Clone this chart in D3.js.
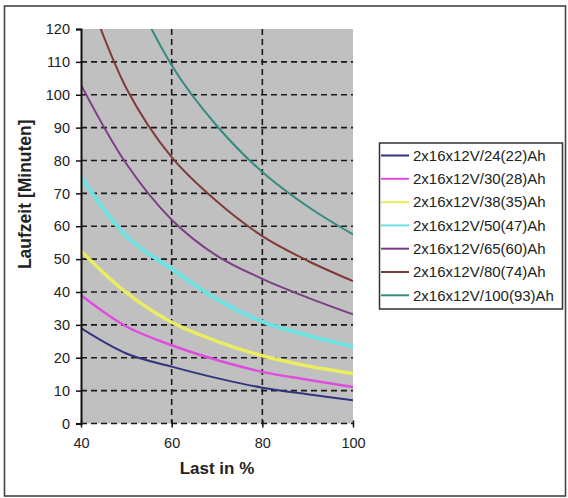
<!DOCTYPE html>
<html lang="de">
<head>
<meta charset="UTF-8">
<title>Laufzeit</title>
<script src="https://d3js.org/d3.v7.min.js"></script>
<style>
    body { margin: 0; background: #fff; }
    svg text { font-family: Arial, "Liberation Sans", sans-serif; fill: #222; }
</style>
</head>
<body>
<svg id="chart" width="568" height="498"></svg>
<script>
    // Last in % (x values)
    const loads = [40, 50, 60, 70, 80, 90, 100];

    // Laufzeit in Minuten per battery set
    const s24 = [29, 21.3, 17.3, 13.8, 10.9, 8.9, 7.1];
    const s30 = [39, 29.5, 23.8, 19.3, 15.7, 13.3, 11.1];
    const s38 = [52.5, 39.8, 30.8, 25, 20.6, 17.5, 15.2];
    const s50 = [75, 57, 47, 37.8, 31, 26.8, 23.4];
    const s65 = [103, 79, 62, 51, 44, 38.3, 33.2];
    const s80 = [136, 102, 81, 67.5, 57, 49.5, 43.3];
    const s100 = [181, 137, 109, 90.5, 76.5, 66, 57.5];

    const seriesNames = ["2x16x12V/24(22)Ah", "2x16x12V/30(28)Ah", "2x16x12V/38(35)Ah",
        "2x16x12V/50(47)Ah", "2x16x12V/65(60)Ah", "2x16x12V/80(74)Ah", "2x16x12V/100(93)Ah"];
    const seriesValues = [s24, s30, s38, s50, s65, s80, s100];
    const colors = ["#33337e", "#e04ce0", "#ecec60", "#6ee2e2", "#7c3f86", "#803a3a", "#338c80"];
    const widths = [2, 2.5, 3.5, 4, 2, 2, 2];

    const xTicks = [40, 60, 80, 100];
    const yTicks = d3.range(0, 121, 10);

    const svg = d3.select("#chart");
    const plot = {left: 81, right: 353, top: 29, bottom: 423.5};

    // outer frame
    svg.append("rect")
        .attr("x", 4.5).attr("y", 6).attr("width", 561).attr("height", 490)
        .attr("fill", "#fff").attr("stroke", "#444").attr("stroke-width", 1.6);

    const x = d3.scaleLinear().domain([40, 100]).range([plot.left, plot.right]);
    const y = d3.scaleLinear().domain([0, 120]).range([plot.bottom, plot.top]);

    svg.append("rect")
        .attr("x", plot.left).attr("y", plot.top)
        .attr("width", plot.right - plot.left).attr("height", plot.bottom - plot.top)
        .attr("fill", "#c0c0c0");

    // grid
    svg.append("g").selectAll("line").data(yTicks.filter(d => d < 120)).join("line")
        .attr("x1", plot.left).attr("x2", plot.right)
        .attr("y1", d => y(d)).attr("y2", d => y(d))
        .attr("stroke", "#1a1a1a").attr("stroke-width", 1.6).attr("stroke-dasharray", "6,4");
    svg.append("g").selectAll("line").data([60, 80]).join("line")
        .attr("x1", d => x(d)).attr("x2", d => x(d))
        .attr("y1", plot.top).attr("y2", plot.bottom)
        .attr("stroke", "#1a1a1a").attr("stroke-width", 1.6).attr("stroke-dasharray", "6,4");

    // curves
    svg.append("clipPath").attr("id", "clip").append("rect")
        .attr("x", plot.left).attr("y", plot.top)
        .attr("width", plot.right - plot.left).attr("height", plot.bottom - plot.top);

    const line = d3.line()
        .x((d, i) => x(loads[i]))
        .y(d => y(d))
        .curve(d3.curveCatmullRom.alpha(0.5));

    svg.append("g").attr("clip-path", "url(#clip)")
        .selectAll("path").data(seriesValues).join("path")
        .attr("fill", "none")
        .attr("stroke", (d, i) => colors[i])
        .attr("stroke-width", (d, i) => widths[i])
        .attr("d", line);

    // y axis
    const yAxis = svg.append("g")
        .attr("transform", `translate(${plot.left},0)`)
        .call(d3.axisLeft(y).tickValues(yTicks).tickSize(5).tickPadding(6));
    yAxis.select(".domain").attr("stroke", "#111").attr("stroke-width", 2);
    yAxis.selectAll(".tick line").attr("stroke", "#111").attr("stroke-width", 1.5);
    yAxis.selectAll("text").attr("font-size", 14.5).attr("fill", "#222")
        .style("font-family", "Arial, 'Liberation Sans', sans-serif");

    // x axis
    const xAxis = svg.append("g")
        .attr("transform", `translate(0,${plot.bottom})`)
        .call(d3.axisBottom(x).tickValues(xTicks).tickSize(4).tickPadding(10));
    xAxis.select(".domain").remove();
    xAxis.selectAll(".tick line").attr("y1", -3).attr("stroke", "#111").attr("stroke-width", 1.5);
    xAxis.selectAll("text").attr("font-size", 14.5).attr("fill", "#222")
        .style("font-family", "Arial, 'Liberation Sans', sans-serif");

    // titles
    svg.append("text")
        .attr("x", (plot.left + plot.right) / 2).attr("y", 474)
        .attr("text-anchor", "middle").attr("font-size", 17).attr("font-weight", "bold")
        .text("Last in %");
    svg.append("text")
        .attr("transform", `translate(31,${(plot.top + plot.bottom) / 2 - 32}) rotate(-90)`)
        .attr("text-anchor", "middle").attr("font-size", 17.5).attr("font-weight", "bold")
        .text("Laufzeit [Minuten]");

    // legend
    const legend = svg.append("g");
    legend.append("rect")
        .attr("x", 379.5).attr("y", 143).attr("width", 183).attr("height", 166)
        .attr("fill", "#fff").attr("stroke", "#333").attr("stroke-width", 1.5);
    const items = legend.selectAll("g.item").data(seriesNames).join("g")
        .attr("class", "item")
        .attr("transform", (d, i) => `translate(0,${155.5 + i * 23.3})`);
    items.append("line")
        .attr("x1", 381).attr("x2", 409)
        .attr("stroke", (d, i) => colors[i]).attr("stroke-width", 2);
    items.append("text")
        .attr("x", 413).attr("dy", "0.35em")
        .attr("font-size", 15)
        .text(d => d);
</script>
</body>
</html>
